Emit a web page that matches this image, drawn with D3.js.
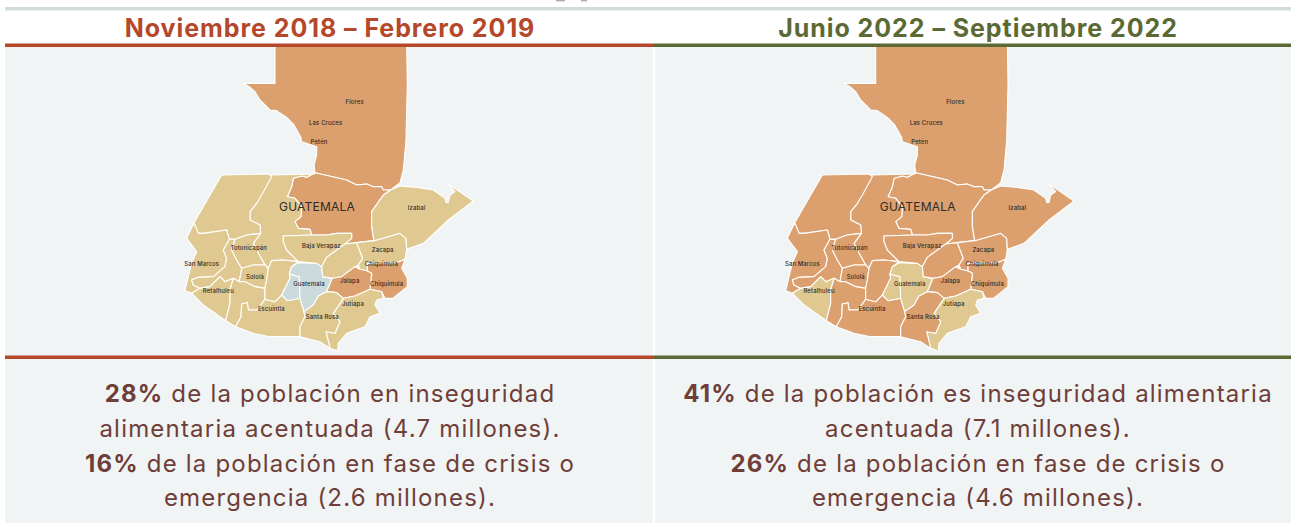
<!DOCTYPE html>
<html lang="es">
<head>
<meta charset="utf-8">
<title>Inseguridad alimentaria Guatemala</title>
<script src="https://cdn.jsdelivr.net/npm/d3@7"></script>
<style>
  html, body { margin: 0; padding: 0; background: #fff; }
  svg { display: block; }
  text { font-family: Inter, "Open Sans", sans-serif; }
</style>
</head>
<body>
<svg id="chart" width="1291" height="523"></svg>
<script>
// department outlines (map units)
const deptNames = ["Petén", "Alta Verapaz", "Quiché", "Huehuetenango", "San Marcos", "Quetzaltenango", "Retalhuleu", "Totonicapán", "Sololá", "Suchitepéquez", "Escuintla", "Chimaltenango", "Sacatepéquez", "Guatemala", "Baja Verapaz", "El Progreso", "Zacapa", "Chiquimula", "Jalapa", "Izabal", "Jutiapa", "Santa Rosa"];
const deptRings = [
  [[315,-378],[315,-260],[220,-260],[240,-248],[255,-235],[270,-210],[300,-180],[320,-178],[350,-158],[372,-135],[392,-100],[395,-85],[440,-70],[440,-45],[432,-15],[435,8],[530,30],[560,45],[590,42],[610,50],[635,50],[640,60],[662,60],[690,38],[700,0],[708,-90],[712,-260],[710,-378]],
  [[435,8],[410,22],[395,18],[370,25],[365,50],[352,80],[375,85],[395,110],[393,140],[375,155],[385,175],[420,178],[425,195],[470,195],[500,190],[545,190],[545,205],[525,222],[560,218],[612,212],[605,170],[605,125],[640,75],[662,60],[640,60],[635,50],[610,50],[590,42],[560,45],[530,30]],
  [[305,15],[432,12],[435,8],[410,22],[395,18],[370,25],[365,50],[352,80],[375,85],[395,110],[393,140],[375,155],[385,175],[420,178],[425,195],[340,198],[340,215],[350,240],[385,275],[340,270],[305,272],[295,295],[285,285],[265,250],[250,220],[272,190],[270,165],[240,150],[240,125],[260,100]],
  [[155,15],[295,12],[305,20],[275,75],[260,100],[240,125],[240,150],[270,165],[272,190],[230,195],[195,208],[178,208],[170,180],[100,190],[85,190],[72,158]],
  [[72,158],[50,205],[80,245],[65,280],[55,320],[45,362],[65,370],[90,355],[70,345],[65,330],[85,322],[130,320],[165,290],[170,265],[160,240],[178,208],[170,180],[100,190],[85,190]],
  [[178,208],[195,208],[185,240],[200,270],[215,295],[208,335],[190,325],[165,335],[150,320],[120,350],[90,355],[70,345],[65,330],[85,322],[130,320],[165,290],[170,265],[160,240]],
  [[65,370],[90,355],[120,350],[150,320],[165,335],[190,325],[180,360],[180,400],[167,452],[100,405]],
  [[195,208],[230,195],[272,190],[250,220],[265,250],[285,285],[250,285],[215,295],[200,270],[185,240]],
  [[215,295],[250,285],[285,285],[295,295],[290,330],[285,355],[255,350],[225,335],[208,335]],
  [[190,325],[208,335],[225,335],[255,350],[285,355],[285,388],[262,420],[235,420],[232,398],[215,402],[213,440],[197,470],[167,452],[180,400],[180,360]],
  [[285,388],[315,395],[335,375],[352,392],[390,385],[402,425],[405,440],[390,470],[390,500],[300,500],[250,490],[197,470],[213,440],[215,402],[232,398],[235,420],[262,420]],
  [[305,272],[340,270],[385,275],[365,290],[358,312],[360,325],[335,375],[315,395],[285,388],[285,355],[290,330],[295,295]],
  [[358,312],[388,320],[390,385],[352,392],[335,375],[360,325]],
  [[365,290],[385,278],[440,280],[455,290],[458,320],[487,325],[470,365],[445,378],[430,405],[402,425],[390,385],[388,320],[358,312]],
  [[340,198],[425,195],[470,195],[500,190],[545,190],[545,205],[525,222],[470,262],[455,290],[440,280],[385,275],[350,240],[340,215]],
  [[470,262],[525,222],[560,218],[578,265],[565,285],[555,290],[515,320],[487,325],[458,320],[455,290]],
  [[560,218],[612,212],[690,190],[708,205],[710,238],[705,268],[680,278],[592,280],[592,303],[570,298],[565,285],[578,265]],
  [[592,280],[680,278],[705,268],[695,295],[712,325],[712,350],[668,385],[645,385],[635,365],[600,358],[605,310],[592,303]],
  [[487,325],[515,320],[555,290],[570,298],[592,303],[605,310],[600,358],[555,378],[520,385],[500,368],[470,365]],
  [[612,212],[605,170],[605,125],[640,75],[662,60],[690,48],[740,52],[790,60],[825,85],[828,97],[835,97],[840,75],[855,65],[832,40],[910,93],[835,150],[760,220],[710,238],[708,205],[690,190]],
  [[520,385],[555,378],[600,358],[635,365],[640,385],[620,390],[615,405],[630,430],[600,440],[585,470],[530,490],[505,520],[503,543],[480,535],[468,485],[495,490],[510,455],[490,430]],
  [[402,425],[430,405],[445,378],[470,365],[500,368],[520,385],[490,430],[510,455],[495,490],[468,485],[480,535],[450,515],[390,500],[390,470],[405,440]]
];

// phase per department, same order as deptNames
const phasesBefore = ["3","3","2","2","2","2","2","2","2","2","2","2","1","1","2","2","2","3","3","2","2","2"];
const phasesAfter = ["3","3","3","3","3","3","2","3","3","3","3","3","2","2","3","3","3","3","3","3","2","3"];
const phaseKeys = ["1", "2", "3"];
const phaseColors = ["#cbdadb", "#dfc991", "#dba06e"];

const labelNames = ["Flores", "Las Cruces", "Petén", "Izabal", "Baja Verapaz", "Totonicapán", "Zacapa", "San Marcos", "Chiquimula", "Sololá", "Guatemala", "Jalapa", "Chiquimula", "Retalhuleu", "Jutiapa", "Escuintla", "Santa Rosa"];
const labelPoints = [[554,-205],[467,-141],[447,-83],[740,115],[454,228],[236,233],[638,240],[95,283],[634,283],[255,322],[417,341],[539,334],[650,341],[145,363],[549,402],[304,418],[457,441]];

const titles = ["Noviembre 2018 – Febrero 2019", "Junio 2022 – Septiembre 2022"];
const titleColors = ["#b5472a", "#5b6a34"];
const statsBefore = [["28%", " de la población en inseguridad"], ["", "alimentaria acentuada (4.7 millones)."], ["16%", " de la población en fase de crisis o"], ["", "emergencia (2.6 millones)."]];
const statsAfter = [["41%", " de la población es inseguridad alimentaria"], ["", "acentuada (7.1 millones)."], ["26%", " de la población en fase de crisis o"], ["", "emergencia (4.6 millones)."]];

const svg = d3.select("#chart");
const phaseColor = d3.scaleOrdinal().domain(phaseKeys).range(phaseColors);

const features = deptNames.map((name, i) => ({
  type: "Feature",
  properties: { name },
  geometry: { type: "Polygon", coordinates: [deptRings[i].concat([deptRings[i][0]])] },
}));

const panels = [
  { x: 5, w: 648, cx: 330, mapX: 170, phases: phasesBefore, stats: statsBefore },
  { x: 655, w: 636, cx: 978, mapX: 770.7, phases: phasesAfter, stats: statsAfter },
];

// thin rule at the very top
svg.append("rect").attr("x", 5).attr("y", 7).attr("width", 1286).attr("height", 3.4).attr("fill", "#cfdcd8");
// bits of the line cut off above the crop
svg.append("rect").attr("x", 556).attr("y", 0).attr("width", 9).attr("height", 1.4).attr("fill", "#b9a5a3");
svg.append("rect").attr("x", 581).attr("y", 0).attr("width", 6).attr("height", 1.4).attr("fill", "#b9a5a3");

panels.forEach((p, k) => {
  const g = svg.append("g");
  g.append("rect").attr("x", p.x).attr("y", 47).attr("width", p.w).attr("height", 476).attr("fill", "#f1f4f5");

  const projection = d3.geoIdentity().scale(1 / 3).translate([p.mapX, 170]);
  const path = d3.geoPath(projection);

  g.append("g").selectAll("path").data(features).join("path")
    .attr("d", path)
    .attr("fill", (d, i) => phaseColor(p.phases[i]))
    .attr("stroke", "#fff")
    .attr("stroke-width", 1.1)
    .attr("stroke-linejoin", "round");

  g.append("g").selectAll("text").data(labelNames).join("text")
    .attr("x", (d, i) => projection(labelPoints[i])[0])
    .attr("y", (d, i) => projection(labelPoints[i])[1] + 2)
    .attr("text-anchor", "middle")
    .attr("font-size", 5.9)
    .attr("font-weight", 500)
    .attr("letter-spacing", 0.15)
    .attr("fill", "#2e2a26")
    .text((d) => d);

  g.append("text")
    .attr("x", projection([441, 108])[0])
    .attr("y", projection([441, 108])[1] + 4.5)
    .attr("text-anchor", "middle")
    .attr("font-size", 12)
    .attr("letter-spacing", 0.2)
    .attr("fill", "#2e2a26")
    .text("GUATEMALA");

  // period title and the two coloured rules
  svg.append("text").attr("x", p.cx).attr("y", 37).attr("text-anchor", "middle")
    .attr("font-size", 25).attr("font-weight", 700).attr("letter-spacing", 0.95).attr("fill", titleColors[k]).text(titles[k]);
  [43.5, 355.5].forEach((y) => {
    g.append("rect").attr("x", k ? 654 : 5).attr("y", y).attr("width", k ? 637 : 649).attr("height", 3.5).attr("fill", titleColors[k]);
  });

  const lineY = d3.scaleBand().domain(d3.range(4)).range([377, 516]);
  const lines = g.append("g").selectAll("text").data(p.stats).join("text")
    .attr("x", p.cx)
    .attr("y", (d, i) => lineY(i) + 25)
    .attr("text-anchor", "middle")
    .attr("font-size", 24)
    .attr("letter-spacing", 1.2)
    .attr("fill", "#6f3e38");
  lines.append("tspan").attr("font-weight", 700).text((d) => d[0]);
  lines.append("tspan").text((d) => d[1]);
});
</script>
</body>
</html>
